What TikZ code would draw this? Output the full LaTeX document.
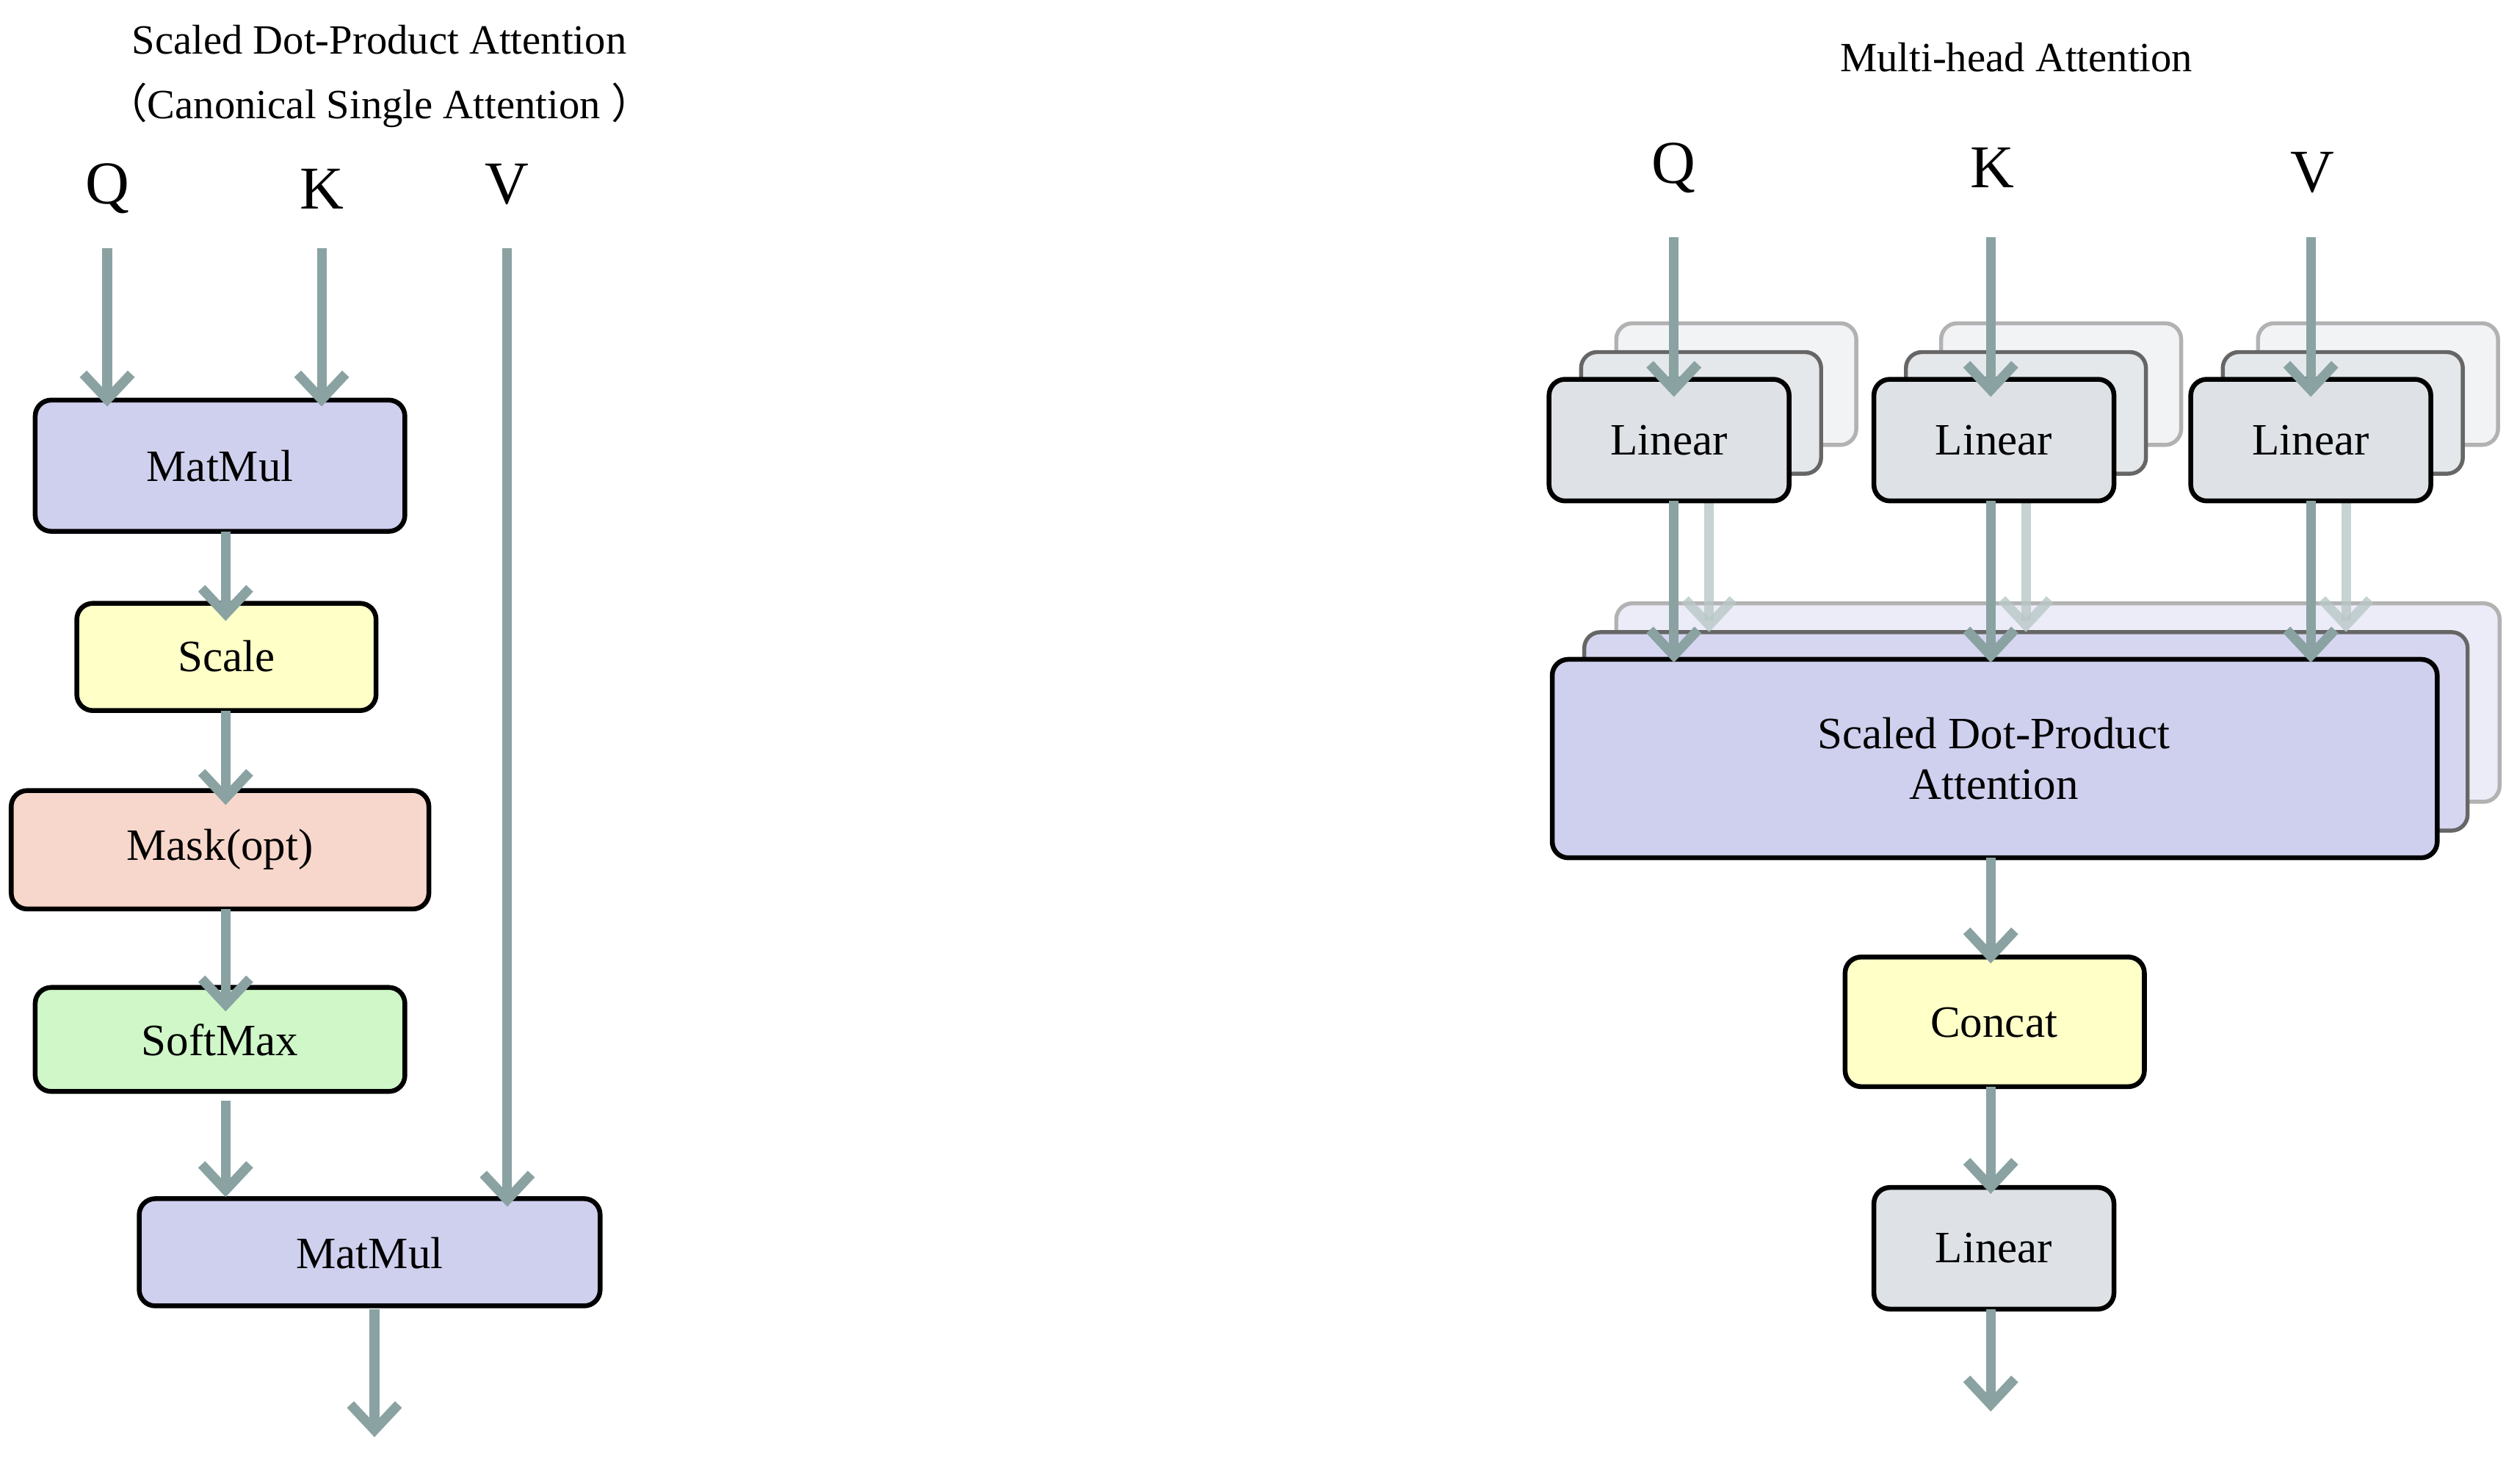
\documentclass[tikz,border=0pt]{standalone}
\usepackage{fontspec}
\setmainfont{Liberation Serif}
\newfontfamily\cjk{Noto Sans CJK SC}
\usetikzlibrary{arrows.meta}
\definecolor{arr}{RGB}{138,162,162}
\definecolor{lav}{RGB}{207,207,238}
\definecolor{yel}{RGB}{255,255,200}
\definecolor{pink}{RGB}{247,215,203}
\definecolor{grn}{RGB}{207,247,200}
\definecolor{gry}{RGB}{222,226,230}
\begin{document}
\begin{tikzpicture}[x=1pt,y=-1pt,
  box/.style={draw=black,line width=3pt,rounded corners=10pt},
  lbl/.style={font=\fontsize{28}{32}\selectfont},
  qkv/.style={font=\fontsize{38}{40}\selectfont},
  ttl/.style={font=\fontsize{26}{30}\selectfont},
  ar/.style={draw=arr,line width=6pt,-{Straight Barb[length=16pt,width=30pt,line width=6pt]}},
  arl/.style={ar,draw=arr!60,opacity=0.8},
  back1/.style={draw=black!60,line width=2.5pt,rounded corners=10pt},
  back2/.style={draw=black!30,line width=2.5pt,rounded corners=10pt}]
\useasboundingbox (0,0) rectangle (1566,927);
% ---- left
\node[ttl] (t1) at (237,25) {Scaled Dot-Product Attention};
\node[ttl] (t2) at (237,66) {{\cjk （}Canonical Single Attention {\cjk ）}};
\node[qkv] (q) at (67,118) {Q};
\node[qkv] (k) at (201,118) {K};
\node[qkv] (v) at (317,115) {V};
\coordinate (qs) at (67,155); \coordinate (ks) at (201,155); \coordinate (vs) at (317,155);
\draw[box,fill=lav] (22,250) rectangle (253,332);
\node[lbl] (m1) at (137.5,291) {MatMul};
\draw[box,fill=yel] (48,377) rectangle (235,444);
\node[lbl] (sc) at (141.5,410) {Scale};
\draw[box,fill=pink] (7,494) rectangle (268,568);
\node[lbl] (mk) at (137.5,531) {Mask(opt)};
\draw[box,fill=grn] (22,617) rectangle (253,682);
\node[lbl] (sm) at (137.5,650) {SoftMax};
\draw[box,fill=lav] (87,749) rectangle (375,816);
\node[lbl] (m2) at (231,783) {MatMul};
\coordinate (o1) at (234,898);
\draw[ar] (qs) -- (67,254);
\draw[ar] (ks) -- (201,254);
\draw[ar] (vs) -- (317,754);
\draw[ar] (141,332) -- (141,388);
\draw[ar] (141,444) -- (141,503);
\draw[ar] (141,568) -- (141,632);
\draw[ar] (141,688) -- (141,748);
\draw[ar] (234,818) -- (o1);
% ---- right
\node[ttl] (t3) at (1260,36) {Multi-head Attention};
\node[qkv] (q2) at (1046,105) {Q};
\node[qkv] (k2) at (1245,105) {K};
\node[qkv] (v2) at (1445,108) {V};
\foreach \x/\n in {968/a,1171/b,1369/c}{
  \draw[back2,fill=gry!40] (\x+42,202) rectangle (\x+192,278);
  \draw[back1,fill=gry!80] (\x+20,220) rectangle (\x+170,296);
}
\draw[back2,fill=lav!40] (1010,377) rectangle (1562,501);
\draw[back1,fill=lav!85] (990,395) rectangle (1542,519);
\foreach \x in {1068,1266,1466}{\draw[arl] (\x,313) -- (\x,395);}
\foreach \x/\n/\t in {968/la/Linear,1171/lb/Linear,1369/lc/Linear}{
  \draw[box,fill=gry] (\x,237) rectangle (\x+150,313);
  \node[lbl] (\n) at (\x+75,275) {\t};
}
\draw[box,fill=lav] (970,412) rectangle (1523,536);
\node[lbl,align=center] (sd) at (1246,474) {Scaled Dot-Product\\Attention};
\draw[box,fill=yel] (1153,598) rectangle (1340,679);
\node[lbl] (cc) at (1246,639) {Concat};
\draw[box,fill=gry] (1171,742) rectangle (1321,818);
\node[lbl] (lo) at (1246,780) {Linear};
\draw[ar] (1046,148) -- (1046,248);
\draw[ar] (1244,148) -- (1244,248);
\draw[ar] (1444,148) -- (1444,248);
\draw[ar] (1046,313) -- (1046,414);
\draw[ar] (1244,313) -- (1244,414);
\draw[ar] (1444,313) -- (1444,414);
\draw[ar] (1244,536) -- (1244,602);
\draw[ar] (1244,679) -- (1244,746);
\draw[ar] (1244,818) -- (1244,882);
\end{tikzpicture}
\end{document}
